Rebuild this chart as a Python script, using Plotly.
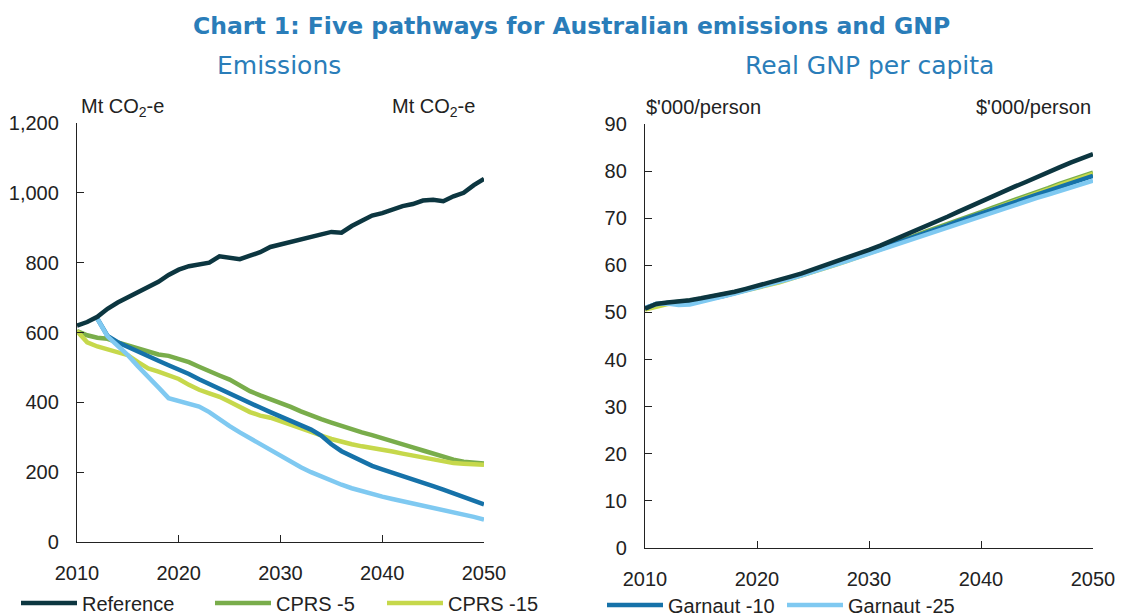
import plotly.graph_objects as go

years = list(range(2010, 2051))
g_years = list(range(2012, 2051))

# Emissions (Mt CO2-e)
emis_reference = [620, 630, 645, 668, 686, 700, 715, 730, 745, 765, 780, 790, 795, 800, 818, 815, 810, 820, 830, 845,
                  852, 858, 866, 873, 882, 888, 886, 905, 920, 935, 942, 952, 962, 968, 978, 980, 976, 990, 1000, 1022, 1040]
emis_cprs5 = [604, 592, 585, 582, 572, 564, 555, 546, 537, 533, 525, 515, 502, 488, 477, 465, 447, 432, 420, 410,
              400, 387, 374, 362, 352, 342, 332, 322, 314, 306, 298, 289, 280, 271, 262, 253, 245, 236, 230, 227, 225]
emis_cprs15 = [604, 572, 560, 551, 543, 535, 515, 497, 488, 477, 467, 450, 436, 426, 416, 402, 386, 372, 362, 356,
               346, 335, 325, 316, 305, 295, 286, 280, 274, 270, 265, 259, 253, 247, 242, 237, 231, 226, 224, 222, 221]
emis_garnaut10 = [640, 590, 572, 558, 545, 532, 519, 506, 495, 481, 466, 452, 440, 425, 412, 398, 385, 372,
                  360, 347, 335, 322, 305, 280, 260, 245, 230, 218, 208, 199, 190, 180, 170, 160, 150, 140, 130, 120, 108]
emis_garnaut25 = [640, 589, 562, 535, 503, 475, 443, 412, 405, 398, 388, 372, 350, 332, 314, 297, 281, 264,
                  246, 230, 214, 200, 187, 175, 164, 154, 145, 137, 130, 123, 117, 111, 104, 98, 92, 86, 79, 72, 64]

# Real GNP per capita ($'000/person)
gnp_reference = [50.8, 51.8, 52.1, 52.3, 52.6, 53.0, 53.4, 53.9, 54.4, 55.0, 55.6, 56.2, 56.9, 57.6, 58.3, 59.1, 59.9,
                 60.8, 61.6, 62.5, 63.3, 64.2, 65.2, 66.1, 67.1, 68.2, 69.3, 70.3, 71.4, 72.5, 73.5, 74.6, 75.6, 76.7,
                 77.7, 78.8, 79.8, 80.8, 81.8, 82.7, 83.6]
gnp_cprs5 = [50.8, 51.6, 52.0, 52.2, 52.5, 52.9, 53.3, 53.8, 54.3, 54.8, 55.4, 56.0, 56.7, 57.4, 58.1, 58.8, 59.6,
             60.4, 61.2, 62.0, 62.9, 63.7, 64.5, 65.4, 66.2, 67.1, 67.9, 68.8, 69.6, 70.5, 71.3, 72.2, 73.0, 73.9,
             74.7, 75.6, 76.4, 77.3, 78.1, 78.9, 79.7]
gnp_cprs15 = [50.6, 51.3, 51.8, 52.0, 52.3, 52.7, 53.1, 53.6, 54.1, 54.6, 55.2, 55.8, 56.4, 57.1, 57.8, 58.5, 59.3,
              60.1, 60.9, 61.7, 62.6, 63.4, 64.2, 65.1, 65.9, 66.8, 67.6, 68.5, 69.3, 70.2, 71.0, 71.9, 72.7, 73.6,
              74.4, 75.3, 76.1, 77.0, 77.8, 78.6, 79.4]
gnp_garnaut10 = [50.9, 51.8, 52.0, 51.9, 52.1, 52.5, 53.0, 53.5, 54.1, 54.7, 55.3, 55.9, 56.6, 57.3, 58.0, 58.7, 59.5,
                 60.3, 61.1, 61.9, 62.8, 63.6, 64.4, 65.2, 66.0, 66.9, 67.7, 68.5, 69.4, 70.2, 71.1, 71.9, 72.7, 73.5,
                 74.3, 75.1, 75.9, 76.7, 77.5, 78.2, 79.0]
gnp_garnaut25 = [50.9, 51.8, 51.9, 51.6, 51.7, 52.2, 52.8, 53.4, 54.0, 54.6, 55.2, 55.8, 56.5, 57.2, 57.9, 58.6, 59.3,
                 60.1, 60.9, 61.7, 62.5, 63.2, 64.0, 64.8, 65.6, 66.4, 67.2, 68.0, 68.8, 69.6, 70.4, 71.1, 71.9, 72.7,
                 73.5, 74.3, 75.0, 75.8, 76.5, 77.3, 78.0]

names = ["Reference", "CPRS -5", "CPRS -15", "Garnaut -10", "Garnaut -25"]
colors = {"Reference": "#0C3640", "CPRS -5": "#79AD4B", "CPRS -15": "#C6D84B",
          "Garnaut -10": "#1672A9", "Garnaut -25": "#7FC9F1"}

W, H = 1136, 616
def px(xp): return xp / W
def py(yp): return 1 - yp / H

TITLE_COLOR = "#2A7DB9"
TXT_FAMILY = "Liberation Sans, Arial, sans-serif"
TICK_FONT = dict(family=TXT_FAMILY, size=20, color="#222222")

fig = go.Figure()

emis = {"Reference": (years, emis_reference), "CPRS -5": (years, emis_cprs5), "CPRS -15": (years, emis_cprs15),
        "Garnaut -10": (g_years, emis_garnaut10), "Garnaut -25": (g_years, emis_garnaut25)}
gnp = {"Reference": gnp_reference, "CPRS -5": gnp_cprs5, "CPRS -15": gnp_cprs15,
       "Garnaut -10": gnp_garnaut10, "Garnaut -25": gnp_garnaut25}

# one legend per entry so each can sit where the reference puts it
legend_of = {"Reference": "legend", "CPRS -5": "legend2", "CPRS -15": "legend3",
             "Garnaut -10": "legend4", "Garnaut -25": "legend5"}
legend_pos = {"legend": (16, 603), "legend2": (210, 603), "legend3": (382, 603),
              "legend4": (602, 605), "legend5": (782, 605)}

draw_order = ["CPRS -5", "CPRS -15", "Garnaut -10", "Garnaut -25", "Reference"]

for n in draw_order:
    xs, ys = emis[n]
    fig.add_trace(go.Scatter(x=xs, y=ys, mode="lines", name=n, xaxis="x", yaxis="y",
                             line=dict(color=colors[n], width=4.5),
                             showlegend=n in ("Reference", "CPRS -5", "CPRS -15"),
                             legend=legend_of[n], hoverinfo="skip"))
for n in draw_order:
    fig.add_trace(go.Scatter(x=years, y=gnp[n], mode="lines", name=n, xaxis="x2", yaxis="y2",
                             line=dict(color=colors[n], width=4.5),
                             showlegend=n in ("Garnaut -10", "Garnaut -25"),
                             legend=legend_of[n], hoverinfo="skip"))

left_dom_x = [px(77), px(484)]
right_dom_x = [px(645), px(1093)]
left_dom_y = [py(542), py(123)]
right_dom_y = [py(548), py(124)]

xax = dict(range=[2010, 2050], tickvals=[2010, 2020, 2030, 2040, 2050], showline=True, linecolor="#222",
           linewidth=1.3, ticks="inside", ticklen=7, tickcolor="#222", showgrid=False, zeroline=False,
           tickfont=TICK_FONT, fixedrange=True, automargin=False, ticklabelstandoff=13)
yax = dict(showline=True, linecolor="#222", linewidth=1.3, ticks="inside", ticklen=7, tickcolor="#222",
           showgrid=False, zeroline=False, tickfont=TICK_FONT, fixedrange=True, automargin=False)

leg_common = dict(orientation="h", xanchor="left", yanchor="middle",
                  font=dict(family=TXT_FAMILY, size=20, color="#222"),
                  itemwidth=56, bgcolor="rgba(0,0,0,0)", borderwidth=0)
legends = {}
for key, (lx, ly) in legend_pos.items():
    legends[key] = dict(leg_common, x=px(lx), y=py(ly))

fig.update_layout(
    width=W, height=H, margin=dict(l=0, r=0, t=0, b=0, autoexpand=False),
    paper_bgcolor="white", plot_bgcolor="white",
    separators=".,",
    xaxis=dict(xax, domain=left_dom_x, anchor="y"),
    yaxis=dict(yax, domain=left_dom_y, anchor="x", range=[0, 1200], dtick=200, tickformat=",d",
               ticklabelstandoff=13),
    yaxis3=dict(yax, overlaying="y", side="right", anchor="x", range=[0, 1200], dtick=200, tickformat=",d",
                ticklabelstandoff=12),
    xaxis2=dict(xax, domain=right_dom_x, anchor="y2"),
    yaxis2=dict(yax, domain=right_dom_y, anchor="x2", range=[0, 90], dtick=10, ticklabelstandoff=13),
    yaxis4=dict(yax, overlaying="y2", side="right", anchor="x2", range=[0, 90], dtick=10, ticklabelstandoff=10),
    font=dict(family=TXT_FAMILY),
    **legends,
)

annotations = [
    dict(text="<b>Chart 1: Five pathways for Australian emissions and GNP</b>", x=px(571), y=py(26),
         font=dict(family="DejaVu Sans, Verdana, sans-serif", size=23.5, color=TITLE_COLOR)),
    dict(text="Emissions", x=px(279), y=py(65),
         font=dict(family="DejaVu Sans, Verdana, sans-serif", size=25, color=TITLE_COLOR)),
    dict(text="Real GNP per capita", x=px(869), y=py(65),
         font=dict(family="DejaVu Sans, Verdana, sans-serif", size=25, color=TITLE_COLOR)),
    dict(text="Mt CO<sub>2</sub>-e", x=px(79), y=py(107), xanchor="left",
         font=dict(family=TXT_FAMILY, size=20, color="#222")),
    dict(text="Mt CO<sub>2</sub>-e", x=px(477), y=py(107), xanchor="right",
         font=dict(family=TXT_FAMILY, size=20, color="#222")),
    dict(text="$'000/person", x=px(644), y=py(107), xanchor="left",
         font=dict(family=TXT_FAMILY, size=20, color="#222")),
    dict(text="$'000/person", x=px(1093), y=py(107), xanchor="right",
         font=dict(family=TXT_FAMILY, size=20, color="#222")),
]
for a in annotations:
    a.update(xref="paper", yref="paper", showarrow=False)
    a.setdefault("yanchor", "middle")
    a.setdefault("xanchor", "center")
fig.update_layout(annotations=annotations)

# remove the browser's default 8px page margin so the figure sits at the window's corner
fig.write_html("out.html", config={"displayModeBar": False},
               post_script="document.body.style.margin='0';document.body.style.overflow='hidden';")
